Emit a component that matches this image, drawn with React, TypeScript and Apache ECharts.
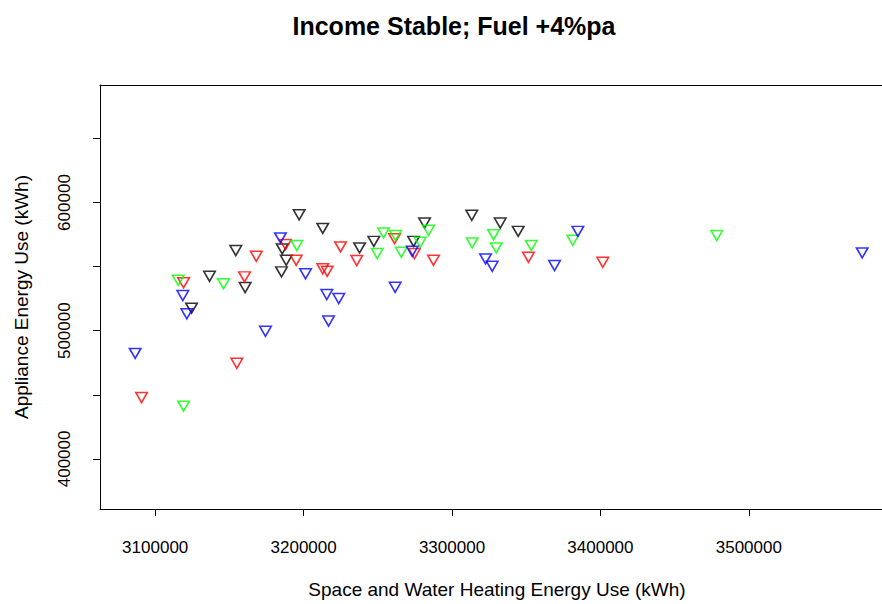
import React, { useEffect, useRef } from "react";
import * as echarts from "echarts";

const titleText = "Income Stable; Fuel +4%pa";
const xName = "Space and Water Heating Energy Use (kWh)";
const yName = "Appliance Energy Use (kWh)";

const xTicks = [3100000, 3200000, 3300000, 3400000, 3500000];
const yTicks = [400000, 450000, 500000, 550000, 600000, 650000];
const yLabelValues = [400000, 500000, 600000];

const seriesNames = ["black", "red", "green", "blue"];
const seriesColors = ["#000000", "#FF0000", "#00FF00", "#0000FF"];

const blackX = [3197000, 3212900, 3154300, 3185600, 3188300, 3185100, 3136600, 3160600, 3124500, 3237700, 3247300, 3281500, 3274100, 3313300, 3332500, 3344600];
const blackY = [590500, 579800, 562500, 563800, 554900, 545900, 542500, 533700, 517600, 564600, 569700, 584000, 569700, 590000, 584000, 577500];

const redX = [3187800, 3168100, 3195000, 3119100, 3160200, 3155000, 3090800, 3224900, 3261300, 3235800, 3212900, 3215900, 3274700, 3287500, 3351500, 3401600];
const redY = [567200, 558100, 554900, 537400, 542000, 474600, 447900, 565400, 571800, 554700, 548300, 546400, 560200, 554900, 557300, 553400];

const greenX = [3195400, 3115500, 3146000, 3119100, 3253800, 3261900, 3249600, 3284200, 3278600, 3265800, 3313600, 3328000, 3329800, 3353400, 3381400, 3478400];
const greenY = [566400, 539400, 536600, 441100, 576300, 574200, 560200, 578300, 569000, 561200, 568500, 574900, 564600, 566400, 570500, 574200];

const blueX = [3184400, 3118600, 3121300, 3174300, 3086500, 3201300, 3215600, 3223700, 3216800, 3273200, 3261700, 3322600, 3327100, 3369100, 3384800, 3576400];
const blueY = [572400, 527500, 513200, 499500, 482300, 544400, 528200, 525100, 507500, 561900, 533900, 556000, 550300, 550800, 577500, 560700];

const groupsX = [blackX, redX, greenX, blueX];
const groupsY = [blackY, redY, greenY, blueY];

const FONT = "'Liberation Sans', Arial, Helvetica, sans-serif";

export default function App() {
  const ref = useRef<HTMLDivElement>(null);

  useEffect(() => {
    if (!ref.current) return;
    const chart = echarts.init(ref.current, null, { renderer: "svg" });
    const series = groupsX.map((xs, gi) => ({
      name: seriesNames[gi],
      type: "scatter",
      xAxisIndex: 0,
      data: xs.map((x, i) => [x, groupsY[gi][i]]),
      symbol: "path://M0,0 L10,0 L5,8.66 Z",
      symbolSize: [11.5, 10],
      itemStyle: {
        color: "rgba(0,0,0,0)",
        borderColor: seriesColors[gi],
        borderWidth: 1.6,
      },
    }));
    const xMin = 3062800;
    const xMax = 3589750;
    chart.setOption({
      animation: false,
      backgroundColor: "#ffffff",
      title: {
        text: titleText,
        left: 449,
        textAlign: "center",
        top: 8,
        textStyle: { fontFamily: FONT, fontSize: 25, fontWeight: "bold", color: "#000" },
      },
      grid: {
        left: 100,
        right: 0,
        top: 85,
        bottom: 94,
        show: false,
      },
      xAxis: [
        {
          type: "value",
          min: xMin,
          max: xMax,
          name: xName,
          nameLocation: "middle",
          nameGap: 71,
          nameTextStyle: { fontFamily: FONT, fontSize: 19, color: "#000", padding: [0, 0, 0, 12] },
          axisLine: { show: true, onZero: false, lineStyle: { color: "#000", width: 1 } },
          axisTick: { show: true, length: 7, lineStyle: { color: "#000" }, customValues: xTicks },
          axisLabel: {
            customValues: xTicks,
            formatter: (v: number) => String(v),
            fontFamily: FONT,
            fontSize: 17,
            color: "#000",
            margin: 30,
          },
          splitLine: { show: false },
        },
        {
          type: "value",
          position: "top",
          min: xMin,
          max: xMax,
          axisLine: { show: true, onZero: false, lineStyle: { color: "#000", width: 1 } },
          axisTick: { show: false },
          axisLabel: { show: false },
          splitLine: { show: false },
        },
      ],
      yAxis: {
        type: "value",
        min: 360900,
        max: 691700,
        name: yName,
        nameLocation: "middle",
        nameRotate: 90,
        nameGap: 69,
        nameTextStyle: { fontFamily: FONT, fontSize: 19, color: "#000" },
        axisLine: { show: true, onZero: false, lineStyle: { color: "#000", width: 1 } },
        axisTick: { show: true, length: 7, lineStyle: { color: "#000" }, customValues: yTicks },
        axisLabel: {
          customValues: yLabelValues,
          formatter: (v: number) => String(v),
          rotate: 90,
          fontFamily: FONT,
          fontSize: 17,
          color: "#000",
          margin: 27,
        },
        splitLine: { show: false },
      },
      series,
    });
    return () => chart.dispose();
  }, []);

  return (
    <div
      ref={ref}
      style={{ position: "fixed", left: 0, top: 0, width: 882, height: 604, background: "#fff" }}
    />
  );
}
